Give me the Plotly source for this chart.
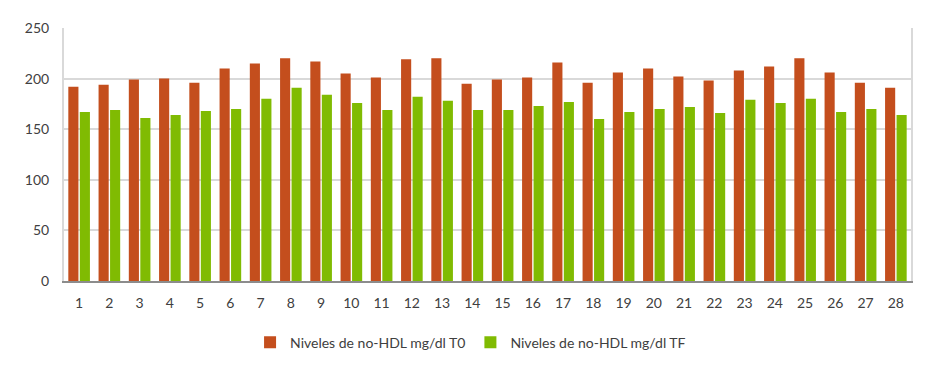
import plotly.graph_objects as go

categories = [str(i) for i in range(1, 29)]
t0_values = [192, 194, 199, 200, 196, 210, 215, 220, 217, 205, 201, 219, 220, 195,
             199, 201, 216, 196, 206, 210, 202, 198, 208, 212, 220, 206, 196, 191]
tf_values = [167, 169, 161, 164, 168, 170, 180, 191, 184, 176, 169, 182, 178, 169,
             169, 173, 177, 160, 167, 170, 172, 166, 179, 176, 180, 167, 170, 164]
series_names = ["Niveles de no-HDL mg/dl T0", "Niveles de no-HDL mg/dl TF"]
y_ticks = [0, 50, 100, 150, 200, 250]

fig = go.Figure()
fig.add_trace(go.Bar(x=categories, y=t0_values, name=series_names[0],
                     marker=dict(color="#C44E1D", line=dict(width=0))))
fig.add_trace(go.Bar(x=categories, y=tf_values, name=series_names[1],
                     marker=dict(color="#80BB02", line=dict(width=0))))

fig.update_layout(
    width=937, height=373,
    margin=dict(l=64, r=26, t=28, b=92),
    paper_bgcolor="white", plot_bgcolor="white",
    barmode="group", bargap=0.24, bargroupgap=0.12,
    font=dict(family="Lato, Open Sans, sans-serif", size=14, color="#595959"),
    showlegend=True,
    legend=dict(orientation="h", x=0.48, xanchor="center", y=-0.18, yanchor="top",
                font=dict(size=14, color="#404040"), traceorder="normal",
                itemwidth=30),
    xaxis=dict(type="category", showline=True, linecolor="#8C8C8C", linewidth=2,
               showgrid=False, ticks="", ticklabelstandoff=8,
               tickfont=dict(size=14, color="#404040")),
    yaxis=dict(range=[0, 250], tickvals=y_ticks, showgrid=True, gridcolor="#D9D9D9",
               gridwidth=2, showline=True, linecolor="#D9D9D9", linewidth=2, mirror=True,
               zeroline=False, ticks="", ticklabelstandoff=10,
               tickfont=dict(size=14, color="#404040")),
)

fig.write_html("out.html", config={"displayModeBar": False},
               post_script="document.body.style.margin='0px';")
